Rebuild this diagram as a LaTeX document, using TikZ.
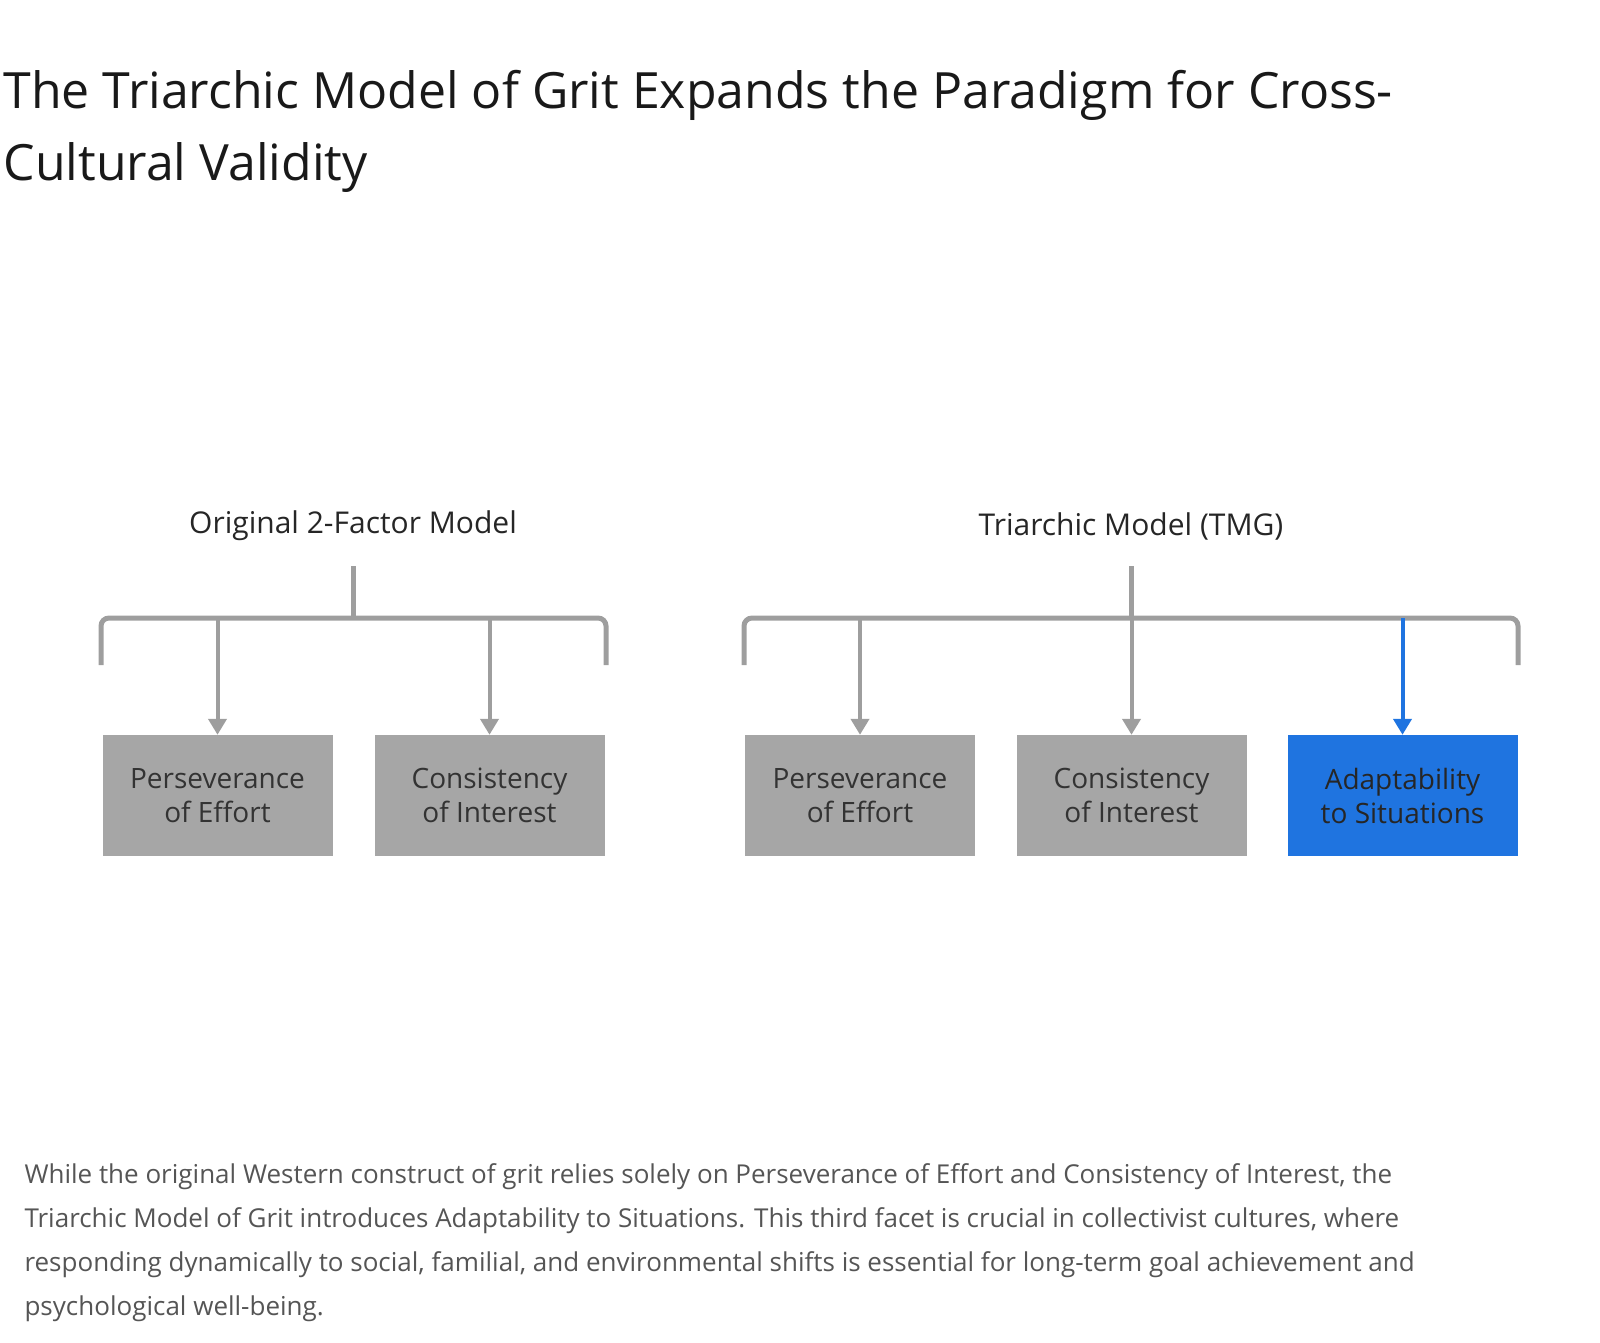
\documentclass[tikz,border=0pt]{standalone}
\usepackage{fontspec}
\setmainfont{Open Sans}
\usetikzlibrary{positioning,arrows.meta}
\definecolor{boxgray}{HTML}{A6A6A6}
\definecolor{linegray}{HTML}{9E9E9E}
\definecolor{tmgblue}{HTML}{1F74E0}
\definecolor{textgray}{HTML}{555555}
\tikzset{
factor/.style = {fill=boxgray, minimum width=230pt, minimum height=121pt, align=center, text=black!80, font=\fontsize{28}{34}\selectfont},
newfactor/.style = {factor, fill=tmgblue, text=black!85},
heading/.style = {font=\fontsize{30}{36}\selectfont, text=black!85},
brace/.style = {draw=linegray, line width=5pt, rounded corners=8pt},
link/.style = {draw=linegray, line width=4pt, -{Triangle[width=18pt,length=16pt]}},
newlink/.style = {link, draw=tmgblue, -{Triangle[width=18pt,length=16pt]}}
}
\begin{document}
\begin{tikzpicture}[x=1pt, y=-1pt]
\useasboundingbox (0,0) rectangle (1600,1342);

\node [anchor=base west, font=\fontsize{50}{72}\selectfont, text=black!90, align=left] (title) at (0,180) {The Triarchic Model of Grit Expands the Paradigm for Cross-\\Cultural Validity};

% original model
\node [heading] (orighead) at (353,526) {Original 2-Factor Model};
\node [factor] (orig1) at (217.5,795.5) {Perseverance\\of Effort};
\node [factor] (orig2) at (489.5,795.5) {Consistency\\of Interest};
\coordinate (origtop) at (353,566);
\coordinate (origbar) at (353,618);
\draw [brace] (101,665) -- (101,618) -- (606,618) -- (606,665);
\draw [brace, rounded corners=0pt] (origtop) -- (origbar);
\draw [link] (orig1 |- origbar) -- (orig1.north);
\draw [link] (orig2 |- origbar) -- (orig2.north);

% triarchic model
\node [heading] (tmghead) at (1131,526) {Triarchic Model (TMG)};
\node [factor] (tmg1) at (860,795.5) {Perseverance\\of Effort};
\node [factor] (tmg2) at (1131.5,795.5) {Consistency\\of Interest};
\node [newfactor] (tmg3) at (1402.5,795.5) {Adaptability\\to Situations};
\coordinate (tmgtop) at (1131,566);
\coordinate (tmgbar) at (1131,618);
\draw [brace] (744,665) -- (744,618) -- (1518,618) -- (1518,665);
\draw [brace, rounded corners=0pt] (tmgtop) -- (tmgbar);
\draw [link] (tmg1 |- tmgbar) -- (tmg1.north);
\draw [link] (tmg2 |- tmgbar) -- (tmg2.north);
\draw [newlink] (tmg3 |- tmgbar) -- (tmg3.north);

\node [anchor=base west, align=left, text=textgray, font=\fontsize{26}{44}\selectfont] (caption) at (21,1315) {While the original Western construct of grit relies solely on Perseverance of Effort and Consistency of Interest, the\\Triarchic Model of Grit introduces Adaptability to Situations. This third facet is crucial in collectivist cultures, where\\responding dynamically to social, familial, and environmental shifts is essential for long-term goal achievement and\\psychological well-being.};
\end{tikzpicture}
\end{document}
